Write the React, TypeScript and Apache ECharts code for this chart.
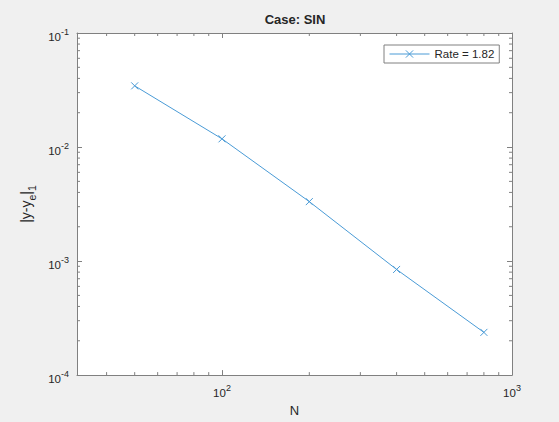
import React, { useEffect, useRef } from "react";
import * as echarts from "echarts";

const nValues = [50, 100, 200, 400, 800];
const errValues = [0.0344, 0.0118, 0.00332, 0.000844, 0.000237];
const seriesName = "Rate = 1.82";
const titleText = "Case: SIN";
const xMinorTicks = [40, 50, 60, 70, 80, 90, 200, 300, 400, 500, 600, 700, 800, 900];
const yMinorTicks = [
  0.0002, 0.0003, 0.0004, 0.0005, 0.0006, 0.0007, 0.0008, 0.0009,
  0.002, 0.003, 0.004, 0.005, 0.006, 0.007, 0.008, 0.009,
  0.02, 0.03, 0.04, 0.05, 0.06, 0.07, 0.08, 0.09,
];
const X_MIN = Math.pow(10, 1.5);
const X_MAX = 1000;
const Y_MIN = 1e-4;
const Y_MAX = 1e-1;

const AXIS_COLOR = "#808080";
const TEXT_COLOR = "#262626";
const LINE_COLOR = "#4a9bd6";
const FONT = "'Liberation Sans', Arial, Helvetica, sans-serif";

function powLabel(v: number): string {
  const l = Math.log10(v);
  const e = Math.round(l);
  if (Math.abs(l - e) > 1e-6) return "";
  return `{b|10}{s|${e}}`;
}

const labelRich = {
  b: { fontSize: 11.5, lineHeight: 16, verticalAlign: "bottom", color: TEXT_COLOR, fontFamily: FONT },
  s: { fontSize: 9, lineHeight: 8, verticalAlign: "top", color: TEXT_COLOR, fontFamily: FONT },
};

export default function App() {
  const ref = useRef<HTMLDivElement>(null);
  useEffect(() => {
    if (!ref.current) return;
    const chart = echarts.init(ref.current, null, { renderer: "svg" });
    const tickData: number[][] = [
      ...xMinorTicks.map((v) => [v, Y_MIN, 0]),
      ...yMinorTicks.map((v) => [X_MIN, v, 1]),
    ];
    const baseAxis = {
      type: "log",
      logBase: 10,
      axisLine: { show: true, lineStyle: { color: AXIS_COLOR, width: 1 } },
      axisTick: { show: true, inside: true, length: 5, lineStyle: { color: AXIS_COLOR } },
      splitLine: { show: false },
      minorTick: { show: false },
    };
    chart.setOption({
      animation: false,
      backgroundColor: "#f0f0f0",
      textStyle: { fontFamily: FONT },
      title: {
        text: titleText,
        left: 295,
        top: 13,
        padding: 0,
        textAlign: "center",
        textStyle: { fontSize: 13, fontWeight: "bold", color: TEXT_COLOR, fontFamily: FONT },
      },
      grid: {
        left: 77,
        top: 33,
        right: 47,
        bottom: 46,
        show: true,
        backgroundColor: "#ffffff",
        borderColor: AXIS_COLOR,
        borderWidth: 0,
      },
      legend: {
        data: [seriesName],
        left: 384,
        top: 45,
        padding: [3, 5, 3, 5],
        itemWidth: 40,
        itemHeight: 9,
        backgroundColor: "#ffffff",
        borderColor: AXIS_COLOR,
        borderWidth: 1,
        borderRadius: 0,
        lineStyle: { width: 1 },
        itemStyle: { borderWidth: 1 },
        textStyle: { fontSize: 11.5, color: TEXT_COLOR, fontFamily: FONT },
      },
      xAxis: [
        {
          ...baseAxis,
          position: "bottom",
          min: X_MIN,
          max: X_MAX,
          name: "N",
          nameLocation: "middle",
          nameGap: 28,
          nameTextStyle: { fontSize: 13, color: TEXT_COLOR, fontFamily: FONT },
          axisLabel: {
            show: true,
            margin: 8,
            formatter: (v: number) => powLabel(v),
            rich: labelRich,
          },
        },
        {
          ...baseAxis,
          position: "top",
          min: X_MIN,
          max: X_MAX,
          axisLabel: { show: false },
        },
      ],
      yAxis: [
        {
          ...baseAxis,
          position: "left",
          min: Y_MIN,
          max: Y_MAX,
          name: "{b||y-y}{sub|e}{b||}{sub|1}",
          nameLocation: "middle",
          nameGap: 37,
          nameTextStyle: {
            color: TEXT_COLOR,
            fontFamily: FONT,
            rich: {
              b: { fontSize: 14, lineHeight: 18, verticalAlign: "top", color: TEXT_COLOR, fontFamily: FONT },
              sub: { fontSize: 10.5, lineHeight: 10, verticalAlign: "bottom", color: TEXT_COLOR, fontFamily: FONT },
            },
          },
          axisLabel: {
            show: true,
            margin: 8,
            padding: [4, 0, 0, 0],
            formatter: (v: number) => powLabel(v),
            rich: labelRich,
          },
        },
        {
          ...baseAxis,
          position: "right",
          min: Y_MIN,
          max: Y_MAX,
          axisLabel: { show: false },
        },
      ],
      series: [
        {
          type: "custom",
          silent: true,
          xAxisIndex: 0,
          yAxisIndex: 0,
          encode: { x: 0, y: 1 },
          data: tickData,
          z: 1,
          renderItem: (params: any, api: any) => {
            const a = api.value(0);
            const b = api.value(1);
            const kind = api.value(2);
            const style = { stroke: AXIS_COLOR, lineWidth: 1 };
            if (kind === 0) {
              const p0 = api.coord([a, Y_MIN]);
              const p1 = api.coord([a, Y_MAX]);
              return {
                type: "group",
                children: [
                  { type: "line", shape: { x1: p0[0], y1: p0[1], x2: p0[0], y2: p0[1] - 3 }, style },
                  { type: "line", shape: { x1: p1[0], y1: p1[1], x2: p1[0], y2: p1[1] + 3 }, style },
                ],
              };
            }
            const q0 = api.coord([X_MIN, b]);
            const q1 = api.coord([X_MAX, b]);
            return {
              type: "group",
              children: [
                { type: "line", shape: { x1: q0[0], y1: q0[1], x2: q0[0] + 3, y2: q0[1] }, style },
                { type: "line", shape: { x1: q1[0], y1: q1[1], x2: q1[0] - 3, y2: q1[1] }, style },
              ],
            };
          },
        },
        {
          name: seriesName,
          type: "line",
          xAxisIndex: 0,
          yAxisIndex: 0,
          data: nValues.map((n, i) => [n, errValues[i]]),
          symbol: "path://M0,0L10,10M10,0L0,10",
          symbolSize: 7,
          showSymbol: true,
          z: 3,
          lineStyle: { color: LINE_COLOR, width: 1 },
          itemStyle: { color: LINE_COLOR, borderColor: LINE_COLOR, borderWidth: 1 },
        },
      ],
    });
    return () => chart.dispose();
  }, []);
  return (
    <div
      ref={ref}
      style={{ position: "fixed", left: 0, top: 0, width: 559, height: 422 }}
    />
  );
}
